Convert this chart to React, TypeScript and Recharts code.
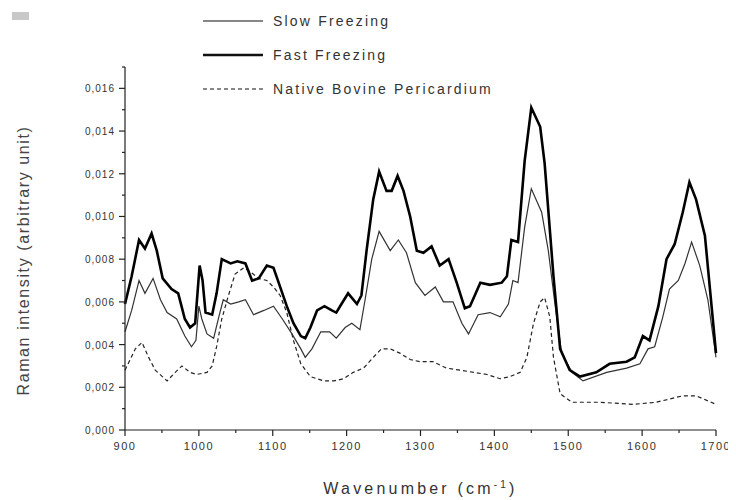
import { LineChart, Line, XAxis, YAxis, Legend, Label } from 'recharts';

// Slow freezing
const slowWavenumber = [
  900, 909, 919, 927, 938, 948, 957, 970, 981, 990, 996, 1000, 1004, 1011, 1020, 1027, 1033, 1043, 1054, 1063,
  1074, 1088, 1101, 1113, 1126, 1138, 1144, 1153, 1165, 1177, 1186, 1198, 1207, 1218, 1225, 1234, 1244, 1259,
  1270, 1281, 1293, 1306, 1320, 1331, 1344, 1356, 1365, 1378, 1394, 1408, 1419, 1425, 1432, 1441, 1450, 1464,
  1473, 1482, 1491, 1505, 1520, 1552, 1579, 1597, 1608, 1617, 1628, 1637, 1649, 1658, 1667, 1678, 1689, 1700,
];
const slowIntensity = [
  0.0046, 0.0056, 0.007, 0.0064, 0.0071, 0.0061, 0.0055, 0.0052, 0.0044, 0.0039, 0.0042, 0.0058, 0.0052, 0.0045,
  0.0043, 0.0053, 0.0061, 0.0059, 0.006, 0.0061, 0.0054, 0.0056, 0.0058, 0.0052, 0.0045, 0.0038, 0.0034, 0.0038,
  0.0046, 0.0046, 0.0043, 0.0048, 0.005, 0.0047, 0.0061, 0.008, 0.0093, 0.0084, 0.0089, 0.0083, 0.0069, 0.0063,
  0.0067, 0.006, 0.006, 0.005, 0.0045, 0.0054, 0.0055, 0.0053, 0.0059, 0.007, 0.0069, 0.0095, 0.0113, 0.0102,
  0.0084, 0.0059, 0.0036, 0.0027, 0.0023, 0.0027, 0.0029, 0.0031, 0.0038, 0.0039, 0.0053, 0.0066, 0.007, 0.0078,
  0.0088, 0.0077, 0.0061, 0.0034,
];

// Fast freezing
const fastWavenumber = [
  900, 909, 919, 927, 936, 943, 951, 963, 972, 981, 988, 995, 1001, 1005, 1009, 1018, 1024, 1031, 1043, 1052,
  1063, 1072, 1081, 1092, 1101, 1110, 1119, 1128, 1138, 1144, 1151, 1160, 1170, 1180, 1186, 1193, 1202, 1214,
  1220, 1227, 1236, 1244, 1254, 1261, 1269, 1277, 1286, 1295, 1304, 1315, 1326, 1338, 1349, 1360, 1367, 1381,
  1394, 1410, 1417, 1423, 1432, 1441, 1450, 1462, 1468, 1480, 1489, 1502, 1516, 1538, 1556, 1579, 1590, 1601,
  1610, 1622, 1633, 1644, 1655, 1664, 1673, 1685, 1700,
];
const fastIntensity = [
  0.0059, 0.0072, 0.0089, 0.0085, 0.0092, 0.0084, 0.0071, 0.0066, 0.0064, 0.0052, 0.0048, 0.005, 0.0077, 0.007,
  0.0055, 0.0054, 0.0064, 0.008, 0.0078, 0.0079, 0.0078, 0.007, 0.0071, 0.0077, 0.0076, 0.0067, 0.0058, 0.005,
  0.0044, 0.0043, 0.0048, 0.0056, 0.0058, 0.0056, 0.0055, 0.0059, 0.0064, 0.0059, 0.0063, 0.0084, 0.0108, 0.0121,
  0.0112, 0.0112, 0.0119, 0.0112, 0.01, 0.0084, 0.0083, 0.0086, 0.0077, 0.008, 0.0069, 0.0057, 0.0058, 0.0069,
  0.0068, 0.0069, 0.0072, 0.0089, 0.0088, 0.0126, 0.0151, 0.0142, 0.0125, 0.0072, 0.0038, 0.0028, 0.0025, 0.0027,
  0.0031, 0.0032, 0.0034, 0.0044, 0.0042, 0.0058, 0.008, 0.0087, 0.0102, 0.0116, 0.0108, 0.0091, 0.0036,
];

// Native bovine pericardium
const nativeWavenumber = [
  900, 914, 923, 932, 941, 957, 968, 977, 988, 997, 1011, 1018, 1024, 1031, 1040, 1049, 1061, 1070, 1081, 1092,
  1101, 1110, 1119, 1128, 1138, 1151, 1169, 1183, 1196, 1209, 1223, 1236, 1247, 1259, 1272, 1286, 1299, 1317,
  1335, 1354, 1372, 1390, 1408, 1421, 1435, 1444, 1453, 1462, 1468, 1475, 1480, 1489, 1505, 1543, 1588, 1619,
  1655, 1673, 1700,
];
const nativeIntensity = [
  0.0028, 0.0038, 0.0041, 0.0034, 0.0028, 0.0023, 0.0027, 0.003, 0.0027, 0.0026, 0.0027, 0.003, 0.0039, 0.0052,
  0.0063, 0.0073, 0.0076, 0.0074, 0.0071, 0.007, 0.0067, 0.0063, 0.0055, 0.0042, 0.0031, 0.0025, 0.0023, 0.0023,
  0.0024, 0.0027, 0.0029, 0.0034, 0.0038, 0.0038, 0.0036, 0.0033, 0.0032, 0.0032, 0.0029, 0.0028, 0.0027, 0.0026,
  0.0024, 0.0025, 0.0027, 0.0034, 0.005, 0.006, 0.0062, 0.0053, 0.0034, 0.0017, 0.0013, 0.0013, 0.0012, 0.0013,
  0.0016, 0.0016, 0.0012,
];

const xTicks = [900, 950, 1000, 1050, 1100, 1150, 1200, 1250, 1300, 1350, 1400, 1450, 1500, 1550, 1600, 1650, 1700];
const yTicks = [
  0, 0.001, 0.002, 0.003, 0.004, 0.005, 0.006, 0.007, 0.008, 0.009, 0.01, 0.011, 0.012, 0.013, 0.014, 0.015,
  0.016, 0.017,
];

const legendItems = [
  { name: 'Slow Freezing', width: 1.2, dash: undefined },
  { name: 'Fast Freezing', width: 2.6, dash: undefined },
  { name: 'Native Bovine Pericardium', width: 1.2, dash: '4 3' },
];

const toRows = (xs: number[], ys: number[]) => xs.map((wn, i) => ({ wn, value: ys[i] }));

const slowData = toRows(slowWavenumber, slowIntensity);
const fastData = toRows(fastWavenumber, fastIntensity);
const nativeData = toRows(nativeWavenumber, nativeIntensity);

const font = 'Arial, "Liberation Sans", sans-serif';

const XTick = ({ x, y, payload }: any) => {
  const major = payload.value % 100 === 0;
  const axisY = y - 10;
  return (
    <g>
      <line x1={x} x2={x} y1={axisY} y2={axisY + (major ? 6 : 3)} stroke="#222" strokeWidth={1.2} />
      {major && (
        <text x={x} y={y} dy={10} textAnchor="middle" fontSize={11} fill="#333" fontFamily={font} letterSpacing={1.5}>
          {payload.value}
        </text>
      )}
    </g>
  );
};

const YTick = ({ x, y, payload }: any) => {
  const step = Math.round(payload.value * 1000);
  const major = step % 2 === 0 && step <= 16;
  const axisX = x + 10;
  return (
    <g>
      <line x1={axisX - (major ? 6 : 3)} x2={axisX} y1={y} y2={y} stroke="#222" strokeWidth={1.2} />
      {major && (
        <text x={x} y={y} dy={4} textAnchor="end" fontSize={10} fill="#333" fontFamily={font} letterSpacing={1}>
          {payload.value.toFixed(3).replace('.', ',')}
        </text>
      )}
    </g>
  );
};

const XLabel = ({ viewBox }: any) => {
  const cx = viewBox.x + viewBox.width / 2;
  return (
    <text x={cx} y={viewBox.y + 64} textAnchor="middle" fontSize={16} fill="#333" fontFamily={font} letterSpacing={3.2}>
      Wavenumber (cm
      <tspan dy={-6} fontSize={10}>-1</tspan>
      <tspan dy={6}>)</tspan>
    </text>
  );
};

const YLabel = ({ viewBox }: any) => {
  const cx = 15;
  const cy = viewBox.y + viewBox.height / 2 + 12;
  return (
    <text
      x={cx}
      y={cy}
      transform={`rotate(-90, ${cx}, ${cy})`}
      textAnchor="middle"
      dominantBaseline="central"
      fontSize={16}
      fill="#444"
      fontFamily={font}
      letterSpacing={1.6}
    >
      Raman intensity (arbitrary unit)
    </text>
  );
};

const LegendBox = () => (
  <div style={{ fontFamily: font, fontSize: 14, color: '#333', letterSpacing: 2.2 }}>
    {legendItems.map((item) => (
      <div key={item.name} style={{ display: 'flex', alignItems: 'center', height: 34 }}>
        <svg width={62} height={10} style={{ marginRight: 8 }}>
          <line x1={0} x2={60} y1={5} y2={5} stroke="#111" strokeWidth={item.width} strokeDasharray={item.dash} />
        </svg>
        <span>{item.name}</span>
      </div>
    ))}
  </div>
);

export default function App() {
  return (
    <div style={{ position: 'relative', width: 728, height: 492 }}>
      <div style={{ position: 'absolute', left: 4, top: 4, width: 17, height: 8, background: '#c8c8c8' }} />
      <LineChart width={728} height={492} margin={{ top: 59, right: 20, left: 5, bottom: 40 }}>
        <XAxis
          dataKey="wn"
          type="number"
          domain={[900, 1700]}
          ticks={xTicks}
          interval={0}
          tick={<XTick />}
          tickLine={false}
          tickSize={6}
          tickMargin={4}
          height={30}
          stroke="#222"
          strokeWidth={1.2}
          allowDuplicatedCategory={false}
        >
          <Label content={<XLabel />} />
        </XAxis>
        <YAxis
          type="number"
          domain={[0, 0.017]}
          ticks={yTicks}
          interval={0}
          tick={<YTick />}
          tickLine={false}
          tickSize={6}
          tickMargin={4}
          width={112}
          stroke="#222"
          strokeWidth={1.2}
        >
          <Label content={<YLabel />} />
        </YAxis>
        <Legend
          layout="vertical"
          align="center"
          verticalAlign="middle"
          content={<LegendBox />}
          wrapperStyle={{ position: 'absolute', left: 195, top: -4, width: 400 }}
        />
        <Line data={nativeData} dataKey="value" name="Native Bovine Pericardium" type="linear" stroke="#222" strokeWidth={1.2} strokeDasharray="4 3" dot={false} isAnimationActive={false} />
        <Line data={slowData} dataKey="value" name="Slow Freezing" type="linear" stroke="#333" strokeWidth={1.2} dot={false} isAnimationActive={false} />
        <Line data={fastData} dataKey="value" name="Fast Freezing" type="linear" stroke="#000" strokeWidth={2.6} dot={false} isAnimationActive={false} />
      </LineChart>
    </div>
  );
}
